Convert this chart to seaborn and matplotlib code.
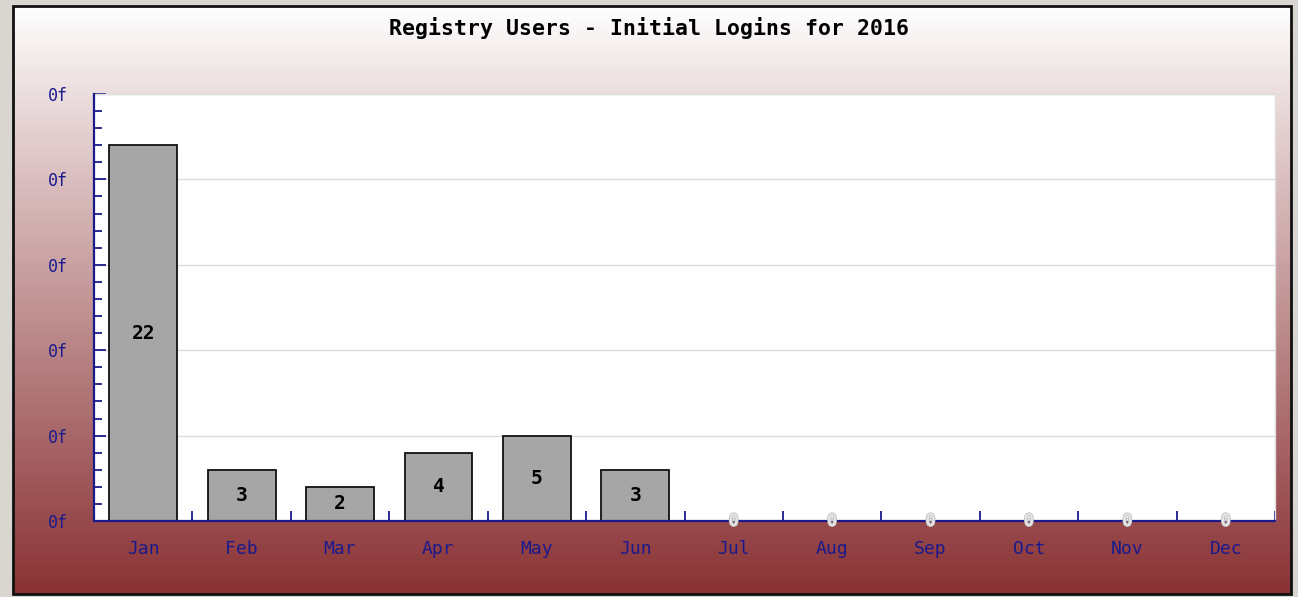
import numpy as np
import pandas as pd
import matplotlib
matplotlib.use("Agg")
import matplotlib.pyplot as plt
import seaborn as sns
from matplotlib.patches import Rectangle
from matplotlib.ticker import MultipleLocator, FixedLocator
import matplotlib.patheffects as pe

months = ["Jan", "Feb", "Mar", "Apr", "May", "Jun", "Jul", "Aug", "Sep", "Oct", "Nov", "Dec"]
logins = [22, 3, 2, 4, 5, 3, 0, 0, 0, 0, 0, 0]
ytick_values = [0, 5, 10, 15, 20, 25]
ytick_labels = ["0f", "0f", "0f", "0f", "0f", "0f"]
title = "Registry Users - Initial Logins for 2016"

sns.set_style("white")
plt.rcParams['font.family'] = ['DejaVu Sans Mono', 'DejaVu Sans']

W, H = 1298, 597
fig = plt.figure(figsize=(W / 100, H / 100), dpi=100)
fig.patch.set_facecolor("#d9d5d1")

# background gradient panel
bg = fig.add_axes([0, 0, 1, 1])
bg.set_xlim(0, W)
bg.set_ylim(H, 0)
bg.axis("off")
top = np.array([1.0, 1.0, 1.0])
bot = np.array([0x8a, 0x32, 0x35]) / 255.0
t = np.linspace(0, 1, 256) ** 0.95
grad = (top[None, :] * (1 - t[:, None]) + bot[None, :] * t[:, None])[:, None, :]
bg.imshow(grad, extent=(13, 1291, 594, 6), aspect="auto", zorder=1)
bg.add_patch(Rectangle((13, 6), 1278, 588, fill=False, edgecolor="#111111", lw=2, zorder=2))

# plot axes
ax = fig.add_axes([94 / W, 1 - 521 / H, (1275 - 94) / W, (521 - 94) / H])
ax.set_facecolor("white")
df = pd.DataFrame({"month": months, "logins": logins})
sns.barplot(data=df, x="month", y="logins", color="#a6a6a6", saturation=1,
            width=0.69, edgecolor="#111111", linewidth=1.3, ax=ax, zorder=3)

ax.set_ylim(0, 25)
ax.set_xlim(-0.5, 11.5)
ax.set_xlabel("")
ax.set_ylabel("")

ax.yaxis.set_major_locator(FixedLocator(ytick_values))
ax.set_yticklabels(ytick_labels)
ax.yaxis.set_minor_locator(MultipleLocator(1))
ax.xaxis.set_minor_locator(FixedLocator([i + 0.5 for i in range(12)]))

navy = "#1a1a8c"
ax.tick_params(which="both", left=True, bottom=True)
ax.tick_params(axis="y", which="major", direction="in", length=8.5, width=1.3,
               color=navy, labelcolor=navy, labelsize=12, pad=19)
ax.tick_params(axis="y", which="minor", direction="in", length=5.5, width=1.3, color=navy)
ax.tick_params(axis="x", which="major", length=0, labelcolor=navy, labelsize=13, pad=14)
ax.tick_params(axis="x", which="minor", direction="in", length=7.5, width=1.3, color=navy)

for s in ["left", "bottom"]:
    ax.spines[s].set_color(navy)
    ax.spines[s].set_linewidth(1.6)
    ax.spines[s].set_zorder(5)
for s in ["top", "right"]:
    ax.spines[s].set_color("#dddddd")
    ax.spines[s].set_linewidth(1)

ax.yaxis.grid(True, color="#dcdcdc", linewidth=1, zorder=0)
ax.set_axisbelow(True)

for i, v in enumerate(logins):
    if v > 0:
        ax.text(i, v / 2, str(v), ha="center", va="center", fontsize=14,
                fontweight="bold", color="black", zorder=6)
    else:
        ax.text(i, 0, "0", ha="center", va="center", fontsize=12.5,
                fontweight="bold", color="#e4e4e4", zorder=6, clip_on=False,
                path_effects=[pe.withStroke(linewidth=1, foreground="#b8b8b8")])

fig.text(0.5, 1 - 28 / H, title, ha="center", va="center", fontsize=15.5,
         fontweight="bold", color="black")

fig.savefig("out.png", dpi=100)
